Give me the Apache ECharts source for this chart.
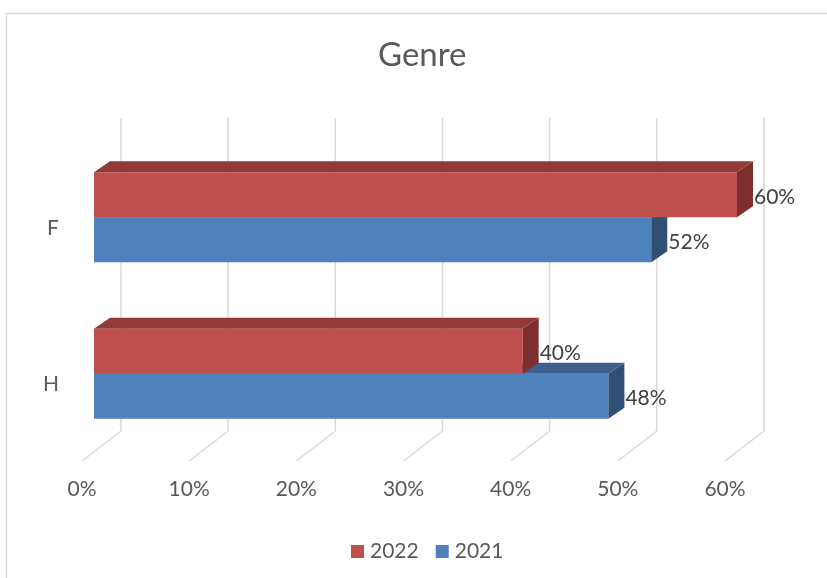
<!DOCTYPE html>
<html>
<head>
<meta charset="utf-8">
<title>Genre</title>
<script src="https://cdn.jsdelivr.net/npm/echarts@6/dist/echarts.min.js"></script>
<style>
  html, body { margin: 0; padding: 0; background: #ffffff; }
  #chart { width: 827px; height: 578px; }
</style>
</head>
<body>
<div id="chart"></div>
<script>
// Chart data
var categories = ['F', 'H'];
var values2022 = [0.60, 0.40];
var values2021 = [0.52, 0.48];
var tickValues = [0, 0.1, 0.2, 0.3, 0.4, 0.5, 0.6];
var seriesNames = ['2022', '2021'];

var FONT = 'Lato, "Noto Sans", sans-serif';
var BAR_FRAC = 0.2875;        // bar thickness as a share of the category band
var DEPTH = [16, -11];        // bar depth offset (front face -> back face)
var WALL = [27, -21];         // front bar plane -> back wall
var FLOOR = [-12, 9];         // front bar plane -> front edge of the floor

function pct(v) { return Math.round(v * 100) + '%'; }

function barRenderer(slot, colors) {
  return function (params, api) {
    var v = api.value(0), ci = api.value(1);
    var start = api.coord([0, ci]);
    var end = api.coord([v, ci]);
    var band = api.size([0, 1])[1];
    var h = band * BAR_FRAC;
    var top = start[1] + (slot === 0 ? -h : 0);
    var x0 = start[0], x1 = end[0];
    var dx = DEPTH[0], dy = DEPTH[1];
    return {
      type: 'group',
      children: [
        { type: 'rect', shape: { x: x0, y: top, width: x1 - x0, height: h },
          style: { fill: colors.front } },
        { type: 'polygon', shape: { points: [[x0, top], [x0 + dx, top + dy], [x1 + dx, top + dy], [x1, top]] },
          style: { fill: colors.top } },
        { type: 'polygon', shape: { points: [[x1, top], [x1 + dx, top + dy], [x1 + dx, top + h + dy], [x1, top + h]] },
          style: { fill: colors.side } },
        { type: 'text', x: x1 + dx + 1, y: top + h / 2 + 2,
          style: { text: pct(v), fill: '#404040', font: '21px ' + FONT,
                   textAlign: 'left', textVerticalAlign: 'middle' } }
      ]
    };
  };
}

function gridRenderer(params, api) {
  var cs = params.coordSys;
  var px = api.coord([api.value(0), 0])[0];
  var bx = px + WALL[0];
  var yTop = cs.y + WALL[1];
  var yBot = cs.y + cs.height + WALL[1];
  var fx = px + FLOOR[0];
  var fy = cs.y + cs.height + FLOOR[1];
  return {
    type: 'polyline',
    shape: { points: [[bx, yTop], [bx, yBot], [fx, fy]] },
    style: { stroke: '#D9D9D9', lineWidth: 1.5, fill: null }
  };
}

function toData(values) {
  return values.map(function (v, i) { return [v, i]; });
}

var chart = echarts.init(document.getElementById('chart'));
chart.setOption({
  animation: false,
  backgroundColor: '#ffffff',
  graphic: [{
    type: 'rect', silent: true,
    shape: { x: 6.5, y: 13.5, width: 840, height: 620 },
    style: { fill: null, stroke: '#D9D9D9', lineWidth: 1.5 }
  }],
  title: {
    text: 'Genre', left: 378, top: 39, padding: 0,
    textStyle: { fontFamily: FONT, fontSize: 33, fontWeight: 'normal', color: '#595959' }
  },
  legend: {
    data: [{ name: seriesNames[0], icon: 'rect' }, { name: seriesNames[1], icon: 'rect' }],
    left: 346, top: 536,
    itemWidth: 13, itemHeight: 13, itemGap: 17,
    textStyle: { fontFamily: FONT, fontSize: 21, color: '#595959', padding: [0, 0, 0, 1] }
  },
  grid: { left: 94, right: 90, top: 139, bottom: 126 },
  xAxis: {
    type: 'value', min: 0, max: 0.6, interval: 0.1,
    axisLine: { show: false }, axisTick: { show: false }, splitLine: { show: false },
    axisLabel: {
      formatter: pct, margin: 27, padding: [0, 24, 0, 0],
      fontFamily: FONT, fontSize: 21, color: '#595959'
    }
  },
  yAxis: {
    type: 'category', data: categories, inverse: true,
    axisLine: { show: false }, axisTick: { show: false },
    axisLabel: {
      margin: 35, verticalAlign: 'top',
      fontFamily: FONT, fontSize: 21, color: '#595959'
    }
  },
  series: [
    {
      type: 'custom', name: 'gridlines', silent: true, z: 1,
      renderItem: gridRenderer,
      encode: { x: 0, y: 1 },
      data: tickValues.map(function (v) { return [v, 0]; })
    },
    {
      type: 'custom', name: seriesNames[1], z: 2,
      itemStyle: { color: '#4F81BD' },
      renderItem: barRenderer(1, { front: '#4F81BD', top: '#3C5F8D', side: '#2F4F75' }),
      encode: { x: 0, y: 1 },
      data: toData(values2021)
    },
    {
      type: 'custom', name: seriesNames[0], z: 3,
      itemStyle: { color: '#C0504D' },
      renderItem: barRenderer(0, { front: '#C0504D', top: '#923A38', side: '#7D2F2D' }),
      encode: { x: 0, y: 1 },
      data: toData(values2022)
    }
  ]
});
</script>
</body>
</html>
